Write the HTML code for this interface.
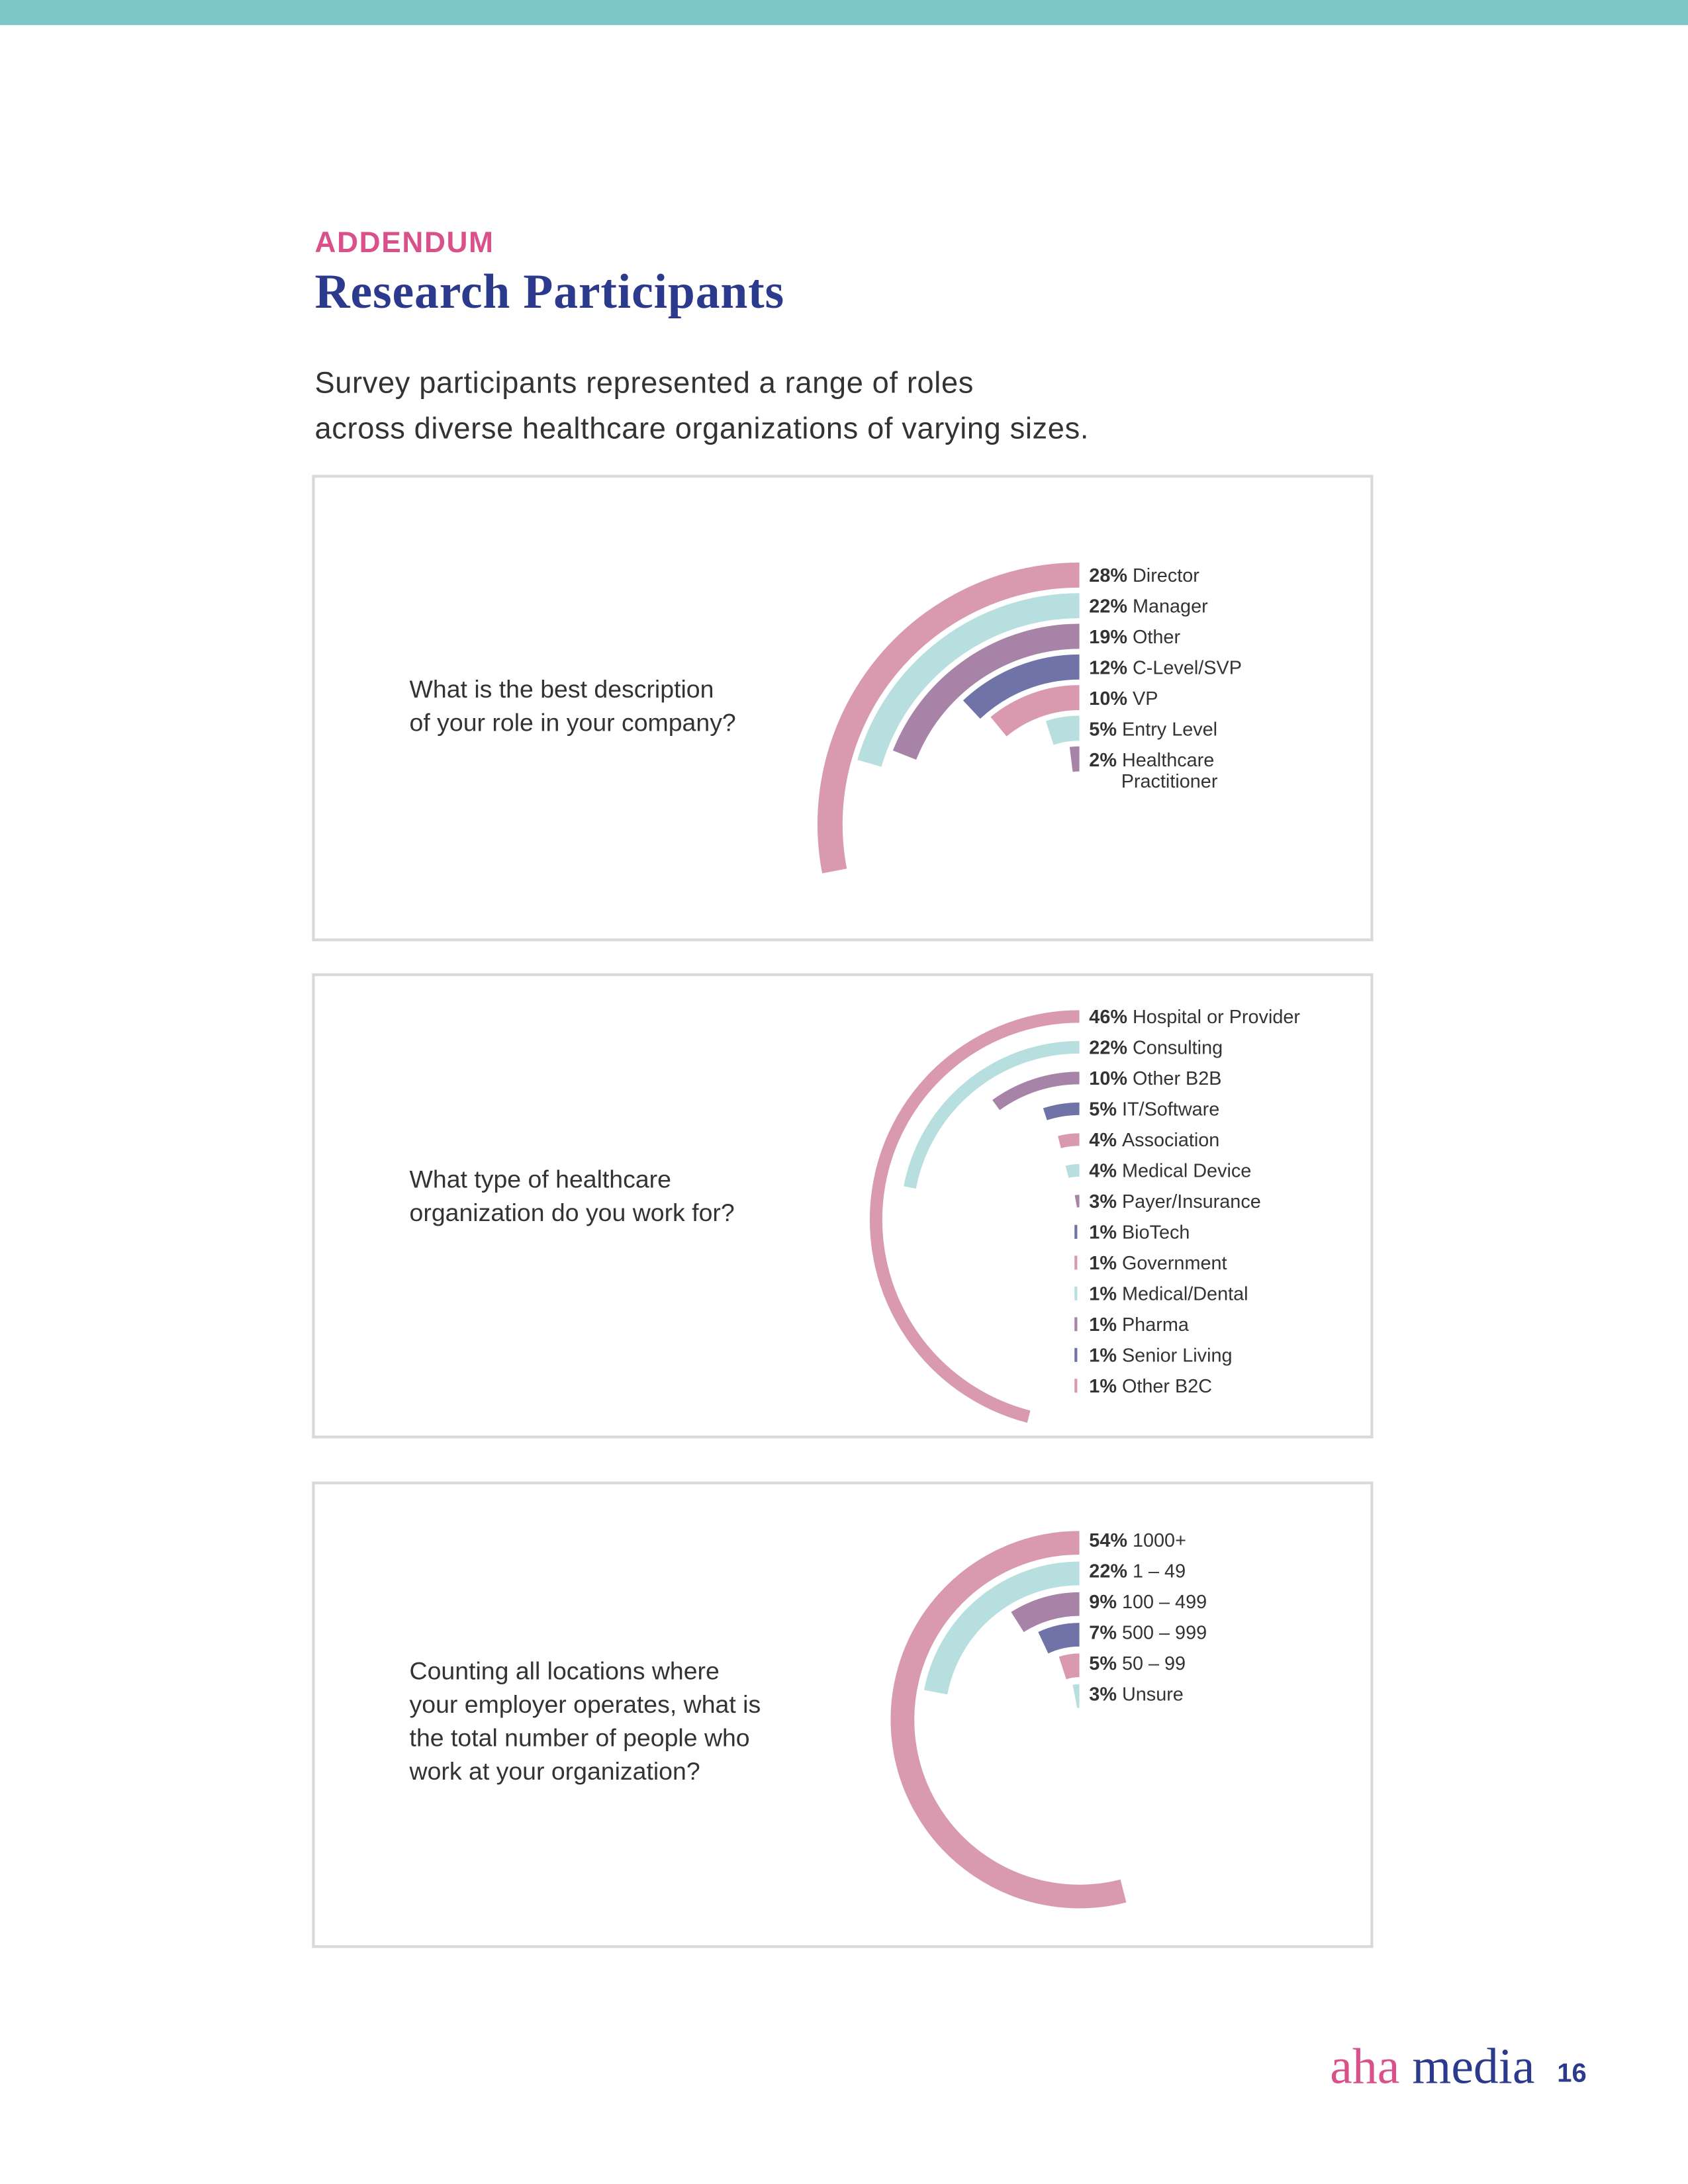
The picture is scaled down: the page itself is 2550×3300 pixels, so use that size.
<!DOCTYPE html>
<html><head><meta charset="utf-8">
<style>
html,body{margin:0;padding:0;background:#fff;}
svg{display:block;}
text{font-family:"Liberation Sans",sans-serif;fill:#333;}
.lab{font-size:13.7px;}
.lab tspan.b{font-weight:bold;}
.q{font-size:17.8px;}
</style></head><body>
<svg id="s" width="2550" height="3300" viewBox="0 0 1212 1568.5" preserveAspectRatio="none" xmlns="http://www.w3.org/2000/svg">
<rect x="0" y="0" width="1212" height="18" fill="#7fc7c6"/>
<text x="226" y="181" style="font-size:21px;font-weight:bold;fill:#d9508a;letter-spacing:0.8px">ADDENDUM</text>
<text x="226" y="221" style="font-family:'Liberation Serif',serif;font-size:35px;font-weight:bold;fill:#2b3a8c;letter-spacing:0.4px">Research Participants</text>
<text x="226" y="282" style="font-size:21.5px;fill:#333;letter-spacing:0.3px">Survey participants represented a range of roles</text>
<text x="226" y="315" style="font-size:21.5px;fill:#333;letter-spacing:0.3px">across diverse healthcare organizations of varying sizes.</text>

<rect x="225" y="342" width="760" height="333" fill="none" stroke="#d9d9d9" stroke-width="2"/>
<rect x="225" y="700" width="760" height="332" fill="none" stroke="#d9d9d9" stroke-width="2"/>
<rect x="225" y="1065" width="760" height="333" fill="none" stroke="#d9d9d9" stroke-width="2"/>

<text class="q" x="294" y="501">What is the best description</text>
<text class="q" x="294" y="525">of your role in your company?</text>
<text class="q" x="294" y="853">What type of healthcare</text>
<text class="q" x="294" y="877">organization do you work for?</text>
<text class="q" x="294" y="1206">Counting all locations where</text>
<text class="q" x="294" y="1230">your employer operates, what is</text>
<text class="q" x="294" y="1254">the total number of people who</text>
<text class="q" x="294" y="1278">work at your organization?</text>

<g id="arcs"></g>
<g id="labs"></g>

<text x="955" y="1496" style="font-family:'Liberation Serif',serif;font-size:36px;fill:#d9508a">aha</text>
<text x="1014" y="1496" style="font-family:'Liberation Serif',serif;font-size:36px;fill:#2b3a8c">media</text>
<text x="1118" y="1495" style="font-size:19px;font-weight:bold;fill:#2b3a8c">16</text>
</svg>
<script>
var cols=["#d99ab0","#b8dfdf","#a883a8","#7073a8"];
var NS="http://www.w3.org/2000/svg";
var arcs=document.getElementById("arcs"),labs=document.getElementById("labs");
function arc(cx,cy,r,pct,w,col){
  var th=pct*3.6*Math.PI/180;
  var x1=cx,y1=cy-r,x2=cx-r*Math.sin(th),y2=cy-r*Math.cos(th);
  var la=pct*3.6>180?1:0;
  var p=document.createElementNS(NS,"path");
  p.setAttribute("d","M"+x1+" "+y1+" A"+r+" "+r+" 0 "+la+" 0 "+x2+" "+y2);
  p.setAttribute("fill","none");p.setAttribute("stroke",col);p.setAttribute("stroke-width",w);
  arcs.appendChild(p);
}
function tick(x,y,h,col){
  var p=document.createElementNS(NS,"rect");
  p.setAttribute("x",x);p.setAttribute("y",y-h/2);p.setAttribute("width",2);p.setAttribute("height",h);p.setAttribute("fill",col);
  arcs.appendChild(p);
}
function lab(y,pc,t){
  var e=document.createElementNS(NS,"text");
  e.setAttribute("class","lab");e.setAttribute("x",782);e.setAttribute("y",y+4.8);
  var b=document.createElementNS(NS,"tspan");b.setAttribute("class","b");b.textContent=pc+"% ";
  e.appendChild(b);e.appendChild(document.createTextNode(t));labs.appendChild(e);
  return e;
}
var c1=[[28,"Director"],[22,"Manager"],[19,"Other"],[12,"C-Level/SVP"],[10,"VP"],[5,"Entry Level"],[2,"Healthcare"]];
var sw1=[28,20.5,19,12,11,5,2];
c1.forEach(function(d,i){
  var y=413+22.1*i;
  arc(775,592,179-22*i,sw1[i],18,cols[i%4]);
  lab(y,d[0],d[1]);
});
var e=document.createElementNS(NS,"text");e.setAttribute("class","lab");e.setAttribute("x",805);e.setAttribute("y",565.5);e.textContent="Practitioner";labs.appendChild(e);
var c2=[[46,"Hospital or Provider"],[22,"Consulting"],[10,"Other B2B"],[5,"IT/Software"],[4,"Association"],[4,"Medical Device"],[3,"Payer/Insurance"],[1,"BioTech"],[1,"Government"],[1,"Medical/Dental"],[1,"Pharma"],[1,"Senior Living"],[1,"Other B2C"]];
c2.forEach(function(d,i){
  var y=730+22.1*i;
  var r=876-y;
  if(r>5) arc(775,876,r,d[0],9,cols[i%4]);
  else tick(771.5,y,10,cols[i%4]);
  lab(y,d[0],d[1]);
});
var c3=[[54,"1000+"],[22,"1 \u2013 49"],[9,"100 \u2013 499"],[7,"500 \u2013 999"],[5,"50 \u2013 99"],[3,"Unsure"]];
c3.forEach(function(d,i){
  var y=1106+22.1*i;
  arc(775,1235,127-22*i,d[0],17,cols[i%4]);
  lab(y,d[0],d[1]);
});
</script>
</body></html>
